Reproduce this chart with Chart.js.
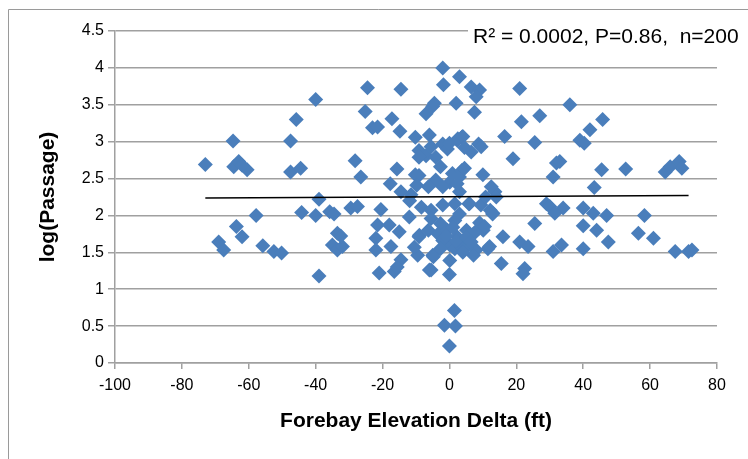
<!DOCTYPE html>
<html lang="en">
<head>
    <meta charset="UTF-8">
    <title>Forebay Elevation Delta vs log(Passage)</title>
    <script src="https://cdn.jsdelivr.net/npm/chart.js"></script>
    <style>
        html, body {
            margin: 0;
            padding: 0;
            background: white;
        }
        #wrap {
            width: 748px;
            height: 459px;
        }
    </style>
</head>
<body>
    <div id="wrap"><canvas id="chart" width="748" height="459"></canvas></div>

    <script>
        // forebay elevation delta (ft) for each observation
        const deltaFt = [
            -73, -64.7, -64.5, -63, -60.5, -62, -47.5, -45.8, -40, -47.5,
            -44.5, -39, -44.2, -40, -35.8, -34.5, -33.5, -35, -33.5, -32,
            -57.8, -63.7, -62, -69, -67.5, -55.8, -52.5, -50.2, -39, -32.5,
            -24.5, -14.5, -25.2, -23, -21.5, -17.2, -14.8, -28.2, -26.5, -15.7,
            -10.2, -17.7, -14.5, -11.5, -29.5, -27.5, -20.5, -21.5, -18, -12,
            -22, -22, -17.5, -15, -9, -21, -16.5, -14.5, -15.6, -9.5,
            -6, -5, -10.2, -6, -7, -5, -4.5, -2, -1.8, -1.5,
            1.8, 1.5, 0, -9.1, -7, -5.5, -4.1, -9.1, -2, -0.6,
            2.3, 3.7, 6.5, 8.7, -2.7, 0.9, 3.7, 0.1, -4.1, -2,
            3, -6.3, 2.3, -9.1, -9.8, -11.9, -8.4, -5.5, -2, 1.6,
            5.8, 9.4, 12.9, -5.5, -2.7, 1.6, 3, 5.1, 8.7, 10.1,
            -6.3, -3.4, -0.6, 2.3, 4.4, 7.2, 0.1, -2, 1.6, 3.7,
            5.8, 8, -2.7, -9.1, -10.5, -4.8, 0.1, 7.2, 11.5, -5.5,
            0, 12.2, 10.8, 13.6, 3, 3, 6.5, 9, 8, 21,
            2, 7.5, 21.5, 27, 16.5, 25.5, 2.5, 4, 0, 9.5,
            4.5, 19, 32, 4.5, 10, 31, 12.5, 14, 6, 29,
            13, 25.5, 9, 10.5, 16, 21, 23.5, 12, 31, 15.5,
            22.5, 22, 36, 45.8, 42, 39, 40.3, 33, 45.5, 52.7,
            64.5, 66, 68.7, 69.5, 30, 43.3, 34, 31.5, 40, 43,
            47, 58.3, 40, 44, 56.5, 61, 47.5, 33.5, 40, 67.5,
            71.5, 72.5, 2, 5, 6.5, -1, 4, 1
        ];

        // log(passage) for each observation
        const logPassage = [
            2.69, 3.01, 2.66, 2.73, 2.62, 2.68, 3.01, 3.30, 3.57, 2.59,
            2.64, 2.22, 2.04, 2.00, 2.05, 2.02, 1.76, 1.60, 1.53, 1.58,
            2.00, 1.85, 1.71, 1.64, 1.53, 1.59, 1.51, 1.49, 1.18, 1.72,
            3.73, 3.71, 3.41, 3.19, 3.20, 3.31, 3.14, 2.74, 2.52, 2.63,
            2.55, 2.43, 2.32, 2.28, 2.10, 2.12, 2.08, 1.87, 1.87, 1.98,
            1.69, 1.53, 1.58, 1.78, 1.73, 1.22, 1.24, 1.40, 1.30, 1.46,
            1.26, 1.46, 3.06, 3.09, 3.38, 3.48, 3.52, 4.00, 3.77, 0.51,
            0.50, 0.71, 0.23, 2.88, 2.81, 2.93, 2.79, 2.79, 2.97, 2.90,
            3.02, 3.06, 2.86, 2.97, 2.66, 2.57, 2.61, 2.45, 2.48, 2.39,
            2.32, 2.39, 2.43, 2.54, 2.41, 2.20, 2.11, 2.07, 2.14, 2.16,
            2.16, 2.14, 2.02, 1.96, 1.89, 1.93, 2.02, 1.80, 1.82, 1.80,
            1.80, 1.75, 1.80, 1.71, 1.66, 1.75, 1.60, 1.66, 1.55, 1.57,
            1.60, 1.53, 1.55, 1.71, 1.57, 1.44, 1.39, 1.46, 1.55, 1.26,
            1.20, 2.07, 2.25, 2.32, 2.52, 3.88, 3.74, 3.70, 3.61, 3.72,
            3.52, 3.40, 3.27, 3.35, 3.07, 2.99, 3.04, 3.07, 2.98, 2.93,
            2.92, 2.77, 2.71, 2.64, 2.55, 2.52, 2.39, 2.25, 2.16, 2.16,
            2.03, 1.89, 1.90, 1.85, 1.71, 1.64, 1.58, 1.58, 1.51, 1.35,
            1.28, 1.21, 3.50, 3.30, 3.16, 3.02, 2.98, 2.73, 2.62, 2.63,
            2.59, 2.66, 2.73, 2.64, 2.12, 2.38, 2.10, 2.03, 2.10, 2.03,
            2.00, 2.00, 1.86, 1.80, 1.76, 1.69, 1.64, 1.60, 1.55, 1.51,
            1.51, 1.53, 1.65, 1.70, 1.64, 1.72, 1.50, 1.84
        ];

        // linear trend line end points
        const trendX = [-73, 71.5];
        const trendY = [2.235, 2.27];

        const statsText = 'R\u00B2 = 0.0002, P=0.86,  n=200';

        const points = deltaFt.map((x, i) => ({ x: x, y: logPassage[i] }));
        const trend = trendX.map((x, i) => ({ x: x, y: trendY[i] }));

        // frame around the chart plus the stats label in the top right
        const decorations = {
            id: 'decorations',
            beforeDraw(chart) {
                const c = chart.ctx;
                c.save();
                c.strokeStyle = '#9a9a9a';
                c.lineWidth = 1;
                c.beginPath();
                c.moveTo(8.5, 459);
                c.lineTo(8.5, 9.5);
                c.lineTo(748, 9.5);
                c.stroke();
                c.restore();
            },
            afterDraw(chart) {
                const c = chart.ctx;
                c.save();
                c.fillStyle = 'white';
                c.fillRect(468, 20, 280, 30);
                c.fillStyle = '#000';
                c.font = '21px "Liberation Sans", sans-serif';
                c.textBaseline = 'middle';
                c.fillText(statsText, 473, 37);
                c.restore();
            }
        };

        const ctx = document.getElementById('chart').getContext('2d');
        new Chart(ctx, {
            type: 'scatter',
            data: {
                datasets: [
                    {
                        label: 'Trend',
                        type: 'line',
                        data: trend,
                        borderColor: '#000',
                        borderWidth: 1.5,
                        pointRadius: 0,
                        fill: false,
                        order: 0
                    },
                    {
                        label: 'log(Passage)',
                        data: points,
                        pointStyle: 'rectRot',
                        pointRadius: 7.5,
                        backgroundColor: '#4a7ebb',
                        borderColor: '#4a7ebb',
                        borderWidth: 0,
                        order: 1
                    }
                ]
            },
            options: {
                responsive: false,
                animation: false,
                events: [],
                layout: {
                    padding: { left: 0, top: 31, right: 31, bottom: 0 }
                },
                plugins: {
                    legend: { display: false },
                    tooltip: { enabled: false }
                },
                scales: {
                    x: {
                        type: 'linear',
                        min: -100,
                        max: 80,
                        afterFit(scale) { scale.height = 96; },
                        ticks: {
                            stepSize: 20,
                            color: '#000',
                            padding: 7,
                            font: { family: '"Liberation Sans", sans-serif', size: 16 }
                        },
                        grid: {
                            drawOnChartArea: false,
                            tickLength: 6,
                            color: '#a0a0a0',
                            lineWidth: 1.5
                        },
                        border: { color: '#a0a0a0', width: 1.5 },
                        title: {
                            display: true,
                            text: 'Forebay Elevation Delta (ft)',
                            color: '#000',
                            font: { family: '"Liberation Sans", sans-serif', size: 21, weight: 'bold' },
                            padding: { top: 0, bottom: 25 }
                        }
                    },
                    y: {
                        min: 0,
                        max: 4.5,
                        afterFit(scale) { scale.width = 115; },
                        ticks: {
                            stepSize: 0.5,
                            color: '#000',
                            padding: 4,
                            callback: (v) => String(v),
                            font: { family: '"Liberation Sans", sans-serif', size: 16 }
                        },
                        grid: {
                            tickLength: 7,
                            color: '#a0a0a0',
                            lineWidth: 1.5
                        },
                        border: { color: '#a0a0a0', width: 1.5 },
                        title: {
                            display: true,
                            text: 'log(Passage)',
                            color: '#000',
                            font: { family: '"Liberation Sans", sans-serif', size: 21, weight: 'bold' },
                            padding: { top: 36, bottom: 0 }
                        }
                    }
                }
            },
            plugins: [decorations]
        });
    </script>
</body>
</html>
